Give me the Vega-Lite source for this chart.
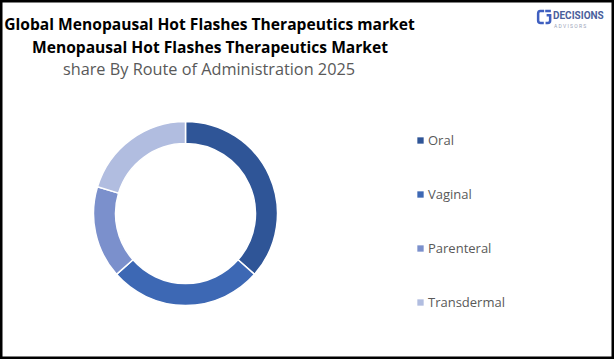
{
"$schema":"https://vega.github.io/schema/vega-lite/v6.json",
"width":614,"height":359,
"autosize":{"type":"fit","contains":"padding"},
"padding":0,
"background":"#ffffff",
"view":{"stroke":"#000000","strokeWidth":5},
"layer":[
{"data":{"values":[{"route":"Oral","share":36.5,"rank":1},{"route":"Vaginal","share":27,"rank":2},{"route":"Parenteral","share":16.2,"rank":3},{"route":"Transdermal","share":20.3,"rank":4}]},
"mark":{"type":"arc","outerRadius":92,"innerRadius":70,"stroke":"#ffffff","strokeWidth":1.5},
"encoding":{
"x":{"datum":185.5,"type":"quantitative","scale":{"domain":[0,614],"range":[0,614]},"axis":null},
"y":{"datum":213.5,"type":"quantitative","scale":{"domain":[0,359],"range":[0,359]},"axis":null},
"theta":{"field":"share","type":"quantitative","stack":true},
"order":{"field":"rank","type":"quantitative"},
"color":{"field":"route","type":"nominal","sort":["Oral","Vaginal","Parenteral","Transdermal"],
"scale":{"domain":["Oral","Vaginal","Parenteral","Transdermal"],"range":["#2f5597","#3d68b4","#7b90cc","#b1bde0"]},
"legend":{"orient":"none","legendX":414,"legendY":134,"title":null,"symbolType":"square","symbolSize":40,"symbolStrokeWidth":0,"labelFont":"Open Sans","labelFontSize":13,"labelColor":"#595959","rowPadding":40,"labelOffset":1}}
}},
{"data":{"values":[{"t":"Global Menopausal Hot Flashes Therapeutics market"}]},"mark":{"type":"text","font":"Open Sans","fontSize":15.6,"fontWeight":"bold","color":"#000000","align":"center","baseline":"middle"},
"encoding":{"text":{"field":"t"},"x":{"datum":209.5,"type":"quantitative","scale":{"domain":[0,614],"range":[0,614]},"axis":null},"y":{"datum":25,"type":"quantitative","scale":{"domain":[0,359],"range":[0,359]},"axis":null}}},
{"data":{"values":[{"t":"Menopausal Hot Flashes Therapeutics Market"}]},"mark":{"type":"text","font":"Open Sans","fontSize":15.6,"fontWeight":"bold","color":"#000000","align":"center","baseline":"middle"},
"encoding":{"text":{"field":"t"},"x":{"datum":210,"type":"quantitative","scale":{"domain":[0,614],"range":[0,614]},"axis":null},"y":{"datum":48,"type":"quantitative","scale":{"domain":[0,359],"range":[0,359]},"axis":null}}},
{"data":{"values":[{"t":"share By Route of Administration 2025"}]},"mark":{"type":"text","font":"Open Sans","fontSize":16.3,"color":"#595959","align":"center","baseline":"middle"},
"encoding":{"text":{"field":"t"},"x":{"datum":209,"type":"quantitative","scale":{"domain":[0,614],"range":[0,614]},"axis":null},"y":{"datum":70,"type":"quantitative","scale":{"domain":[0,359],"range":[0,359]},"axis":null}}},
{"data":{"values":[{"t":"DECISIONS"}]},"mark":{"type":"text","font":"Roboto","fontSize":10,"fontWeight":"bold","color":"#4a5f9c","align":"left","baseline":"middle"},
"encoding":{"text":{"field":"t"},"x":{"datum":553,"type":"quantitative","scale":{"domain":[0,614],"range":[0,614]},"axis":null},"y":{"datum":16,"type":"quantitative","scale":{"domain":[0,359],"range":[0,359]},"axis":null}}},
{"data":{"values":[{"t":"A  D  V  I  S  O  R  S"}]},"mark":{"type":"text","font":"Roboto","fontSize":5,"color":"#9aa3b8","align":"left","baseline":"middle"},
"encoding":{"text":{"field":"t"},"x":{"datum":554,"type":"quantitative","scale":{"domain":[0,614],"range":[0,614]},"axis":null},"y":{"datum":26,"type":"quantitative","scale":{"domain":[0,359],"range":[0,359]},"axis":null}}},
{"data":{"values":[{"part":"logo"}]},"mark":{"type":"point","filled":false,"strokeWidth":2.5,"color":"#3f5fc0","size":200,"opacity":1,"shape":"M-0.05,-0.85 L-0.6,-0.85 Q-0.9,-0.85 -0.9,-0.5 L-0.9,0.5 Q-0.9,0.85 -0.55,0.85 L-0.1,0.85"},
"encoding":{"x":{"datum":544.5,"type":"quantitative","scale":{"domain":[0,614],"range":[0,614]},"axis":null},"y":{"datum":17,"type":"quantitative","scale":{"domain":[0,359],"range":[0,359]},"axis":null}}},
{"data":{"values":[{"part":"logo"}]},"mark":{"type":"point","filled":false,"strokeWidth":2.5,"color":"#3f5fc0","size":200,"opacity":1,"shape":"M0.1,-0.85 L0.9,-0.85 M0.3,-0.25 L0.8,-0.25 L0.8,0.5 Q0.8,0.85 0.45,0.85 L0.15,0.85"},
"encoding":{"x":{"datum":544.5,"type":"quantitative","scale":{"domain":[0,614],"range":[0,614]},"axis":null},"y":{"datum":17,"type":"quantitative","scale":{"domain":[0,359],"range":[0,359]},"axis":null}}}
]
}
